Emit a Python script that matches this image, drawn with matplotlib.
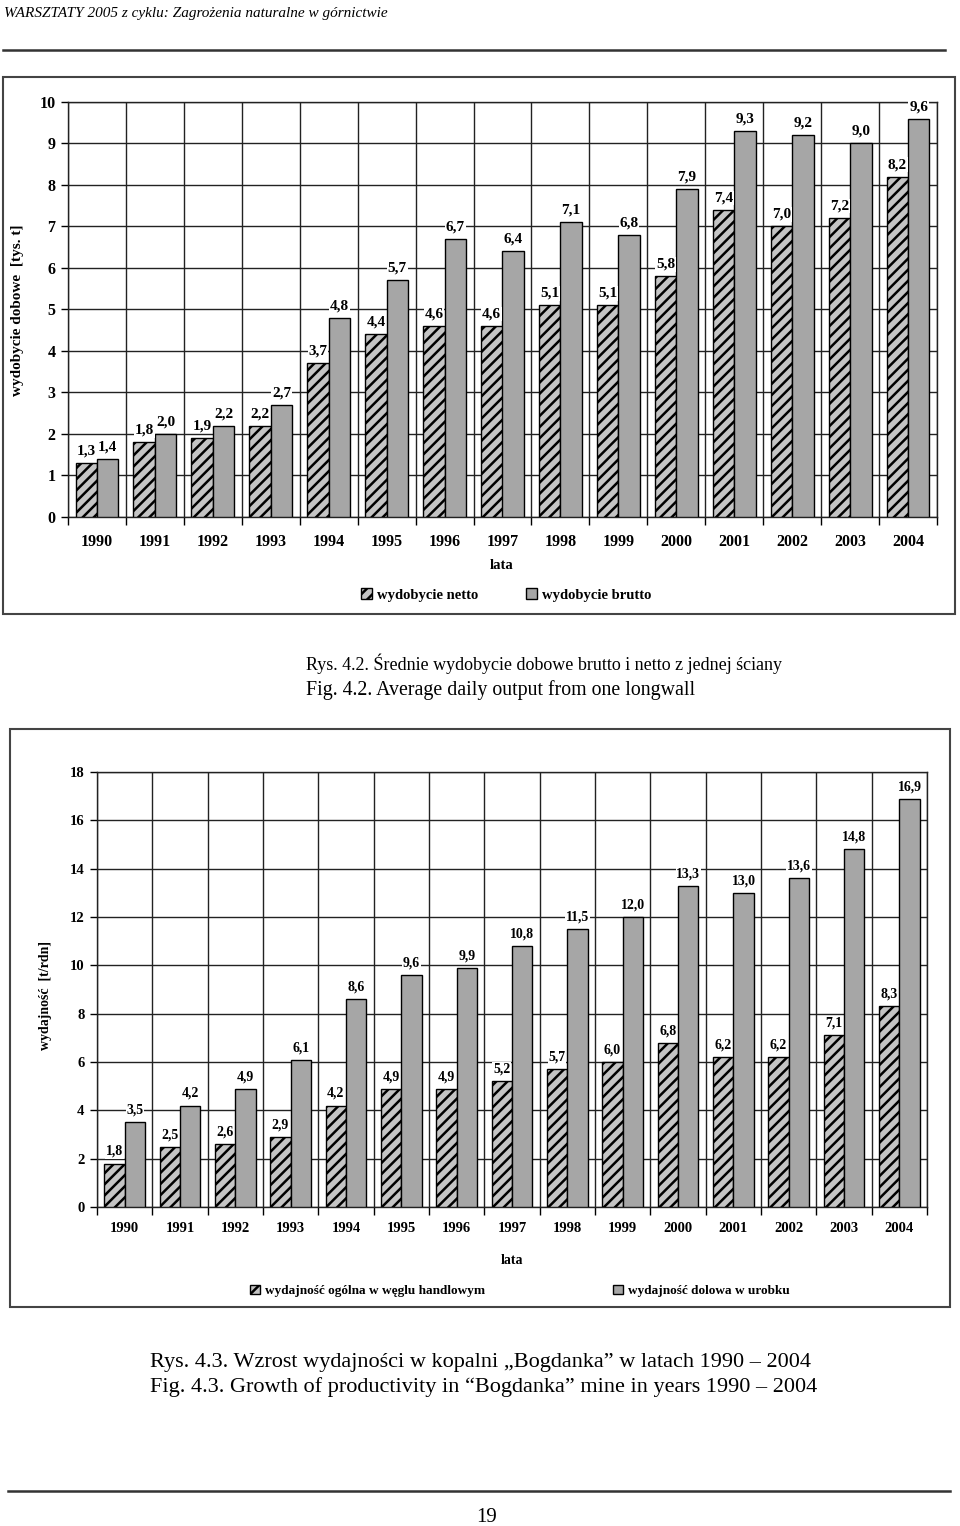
import numpy as np
import matplotlib
matplotlib.use("Agg")
import matplotlib.pyplot as plt
from matplotlib.patches import Rectangle
from matplotlib.lines import Line2D

# Data
years = ['1990', '1991', '1992', '1993', '1994', '1995', '1996', '1997',
         '1998', '1999', '2000', '2001', '2002', '2003', '2004']

# Rys. 4.2 - wydobycie dobowe [tys. t]
wyd_netto = [1.3, 1.8, 1.9, 2.2, 3.7, 4.4, 4.6, 4.6, 5.1, 5.1, 5.8, 7.4, 7.0, 7.2, 8.2]
wyd_brutto = [1.4, 2.0, 2.2, 2.7, 4.8, 5.7, 6.7, 6.4, 7.1, 6.8, 7.9, 9.3, 9.2, 9.0, 9.6]

# Rys. 4.3 - wydajnosc [t/rdn]
wyd_ogolna = [1.8, 2.5, 2.6, 2.9, 4.2, 4.9, 4.9, 5.2, 5.7, 6.0, 6.8, 6.2, 6.2, 7.1, 8.3]
wyd_dolowa = [3.5, 4.2, 4.9, 6.1, 8.6, 9.6, 9.9, 10.8, 11.5, 12.0, 13.3, 13.0, 13.6, 14.8, 16.9]

W, H = 960, 1526
plt.rcParams['font.family'] = ['Liberation Serif', 'DejaVu Serif']
plt.rcParams['hatch.linewidth'] = 1.8
plt.rcParams['hatch.color'] = 'black'

fig = plt.figure(figsize=(W / 100, H / 100), dpi=100)
fig.patch.set_facecolor('white')

def fx(x):
    return x / W

def fy(y):
    return 1 - y / H

def frame(x0, y0, x1, y1):
    fig.patches.append(Rectangle((fx(x0), fy(y1)), fx(x1 - x0), (y1 - y0) / H,
                                 transform=fig.transFigure, fill=False,
                                 edgecolor='#444444', linewidth=1.5))

def hline(x0, x1, y, lw=1.8):
    fig.lines.append(Line2D([fx(x0), fx(x1)], [fy(y), fy(y)],
                            transform=fig.transFigure, color='#333333', linewidth=lw))

def fmt(v):
    return f"{v:.1f}".replace('.', ',')

NETTO_FC = '#c4c4c4'
BRUTTO_FC = '#a6a6a6'


def bar_chart(rect, netto, brutto, ymax, ystep, fs_tick, fs_lab, xpad, lab_off):
    l, t, r, b = rect
    ax = fig.add_axes([fx(l), fy(b), fx(r - l), (b - t) / H])
    x = np.arange(len(years))
    w = 0.37
    bn = ax.bar(x - w / 2, netto, w, facecolor=NETTO_FC, edgecolor='black',
                hatch='///', linewidth=1.0, zorder=3)
    bb = ax.bar(x + w / 2, brutto, w, facecolor=BRUTTO_FC, edgecolor='black',
                linewidth=1.0, zorder=3)
    # value labels above the bars
    for xs, vals in ((x - w / 2, netto), (x + w / 2, brutto)):
        for xi, v in zip(xs, vals):
            ax.annotate(fmt(v), (xi, v), xytext=(0, lab_off), textcoords='offset points',
                        ha='center', va='bottom', fontsize=fs_lab, fontweight='bold', zorder=4,
                        bbox=dict(boxstyle='square,pad=0.05', fc='white', ec='none'))
    ax.set_xlim(-0.5, len(years) - 0.5)
    ax.set_ylim(0, ymax)
    ax.set_yticks(np.arange(0, ymax + 0.1, ystep))
    ax.set_xticks(x)
    ax.set_xticklabels(years)
    ax.set_xticks(np.arange(-0.5, len(years)), minor=True)
    ax.tick_params(axis='x', which='major', length=0, pad=xpad, labelsize=fs_tick)
    ax.tick_params(axis='x', which='minor', length=6, width=1.0, direction='out')
    ax.tick_params(axis='y', length=5, width=1.0, direction='out', pad=4, labelsize=fs_tick)
    for lab in ax.get_xticklabels() + ax.get_yticklabels():
        lab.set_fontweight('bold')
    ax.yaxis.grid(True, color='#222222', linewidth=1.0, zorder=0)
    ax.xaxis.grid(True, which='minor', color='#222222', linewidth=1.0, zorder=0)
    ax.set_axisbelow(True)
    for s in ax.spines.values():
        s.set_linewidth(1.0)
        s.set_color('#222222')
    return ax, bn, bb


def legend_item(handle, text, x, y, size):
    fig.legend(handles=[handle], labels=[text], loc='center left',
               bbox_to_anchor=(fx(x), fy(y)), frameon=False,
               prop={'weight': 'bold', 'size': size}, handlelength=0.75, handleheight=0.75,
               handletextpad=0.35, borderpad=0, borderaxespad=0)


# ---- Header ----
fig.text(fx(4), fy(13), 'WARSZTATY 2005 z cyklu: Zagrożenia naturalne w górnictwie',
         fontsize=11, style='italic', ha='left', va='center')
hline(3, 945, 50)

# ---- Chart 1 ----
frame(3, 77, 955, 614)
ax1, bn1, bb1 = bar_chart((68, 102, 937, 517), wyd_netto, wyd_brutto, 10, 1,
                          11.5, 11, 12, 4)
fig.text(fx(18), fy(310), 'wydobycie dobowe  [tys. t]', rotation=90, fontsize=11,
         fontweight='bold', ha='center', va='center')
fig.text(fx(502), fy(565), 'lata', fontsize=10.5, fontweight='bold', ha='center', va='center')
legend_item(bn1, 'wydobycie netto', 361, 595, 10.5)
legend_item(bb1, 'wydobycie brutto', 526, 595, 10.5)

fig.text(fx(306), fy(664), 'Rys. 4.2. Średnie wydobycie dobowe brutto i netto z jednej ściany',
         fontsize=13, ha='left', va='center')
fig.text(fx(306), fy(690), 'Fig. 4.2. Average daily output from one longwall',
         fontsize=14.3, ha='left', va='center')

# ---- Chart 2 ----
frame(10, 729, 950, 1307)
ax2, bn2, bb2 = bar_chart((97, 772, 927, 1207), wyd_ogolna, wyd_dolowa, 18, 2,
                          10.5, 10, 11, 4)
fig.text(fx(45), fy(995), 'wydajność  [t/rdn]', rotation=90, fontsize=10,
         fontweight='bold', ha='center', va='center')
fig.text(fx(512), fy(1260), 'lata', fontsize=10, fontweight='bold', ha='center', va='center')
legend_item(bn2, 'wydajność ogólna w węglu handlowym', 250, 1291, 9.5)
legend_item(bb2, 'wydajność dolowa w urobku', 613, 1291, 9.5)

fig.text(fx(150), fy(1362), 'Rys. 4.3. Wzrost wydajności w kopalni „Bogdanka” w latach 1990 – 2004',
         fontsize=16, ha='left', va='center')
fig.text(fx(150), fy(1387), 'Fig. 4.3. Growth of productivity in “Bogdanka” mine in years 1990 – 2004',
         fontsize=16, ha='left', va='center')

# ---- Footer ----
hline(8, 950, 1491)
fig.text(fx(487), fy(1517), '19', fontsize=15, ha='center', va='center')

fig.savefig('out.png', dpi=100)
